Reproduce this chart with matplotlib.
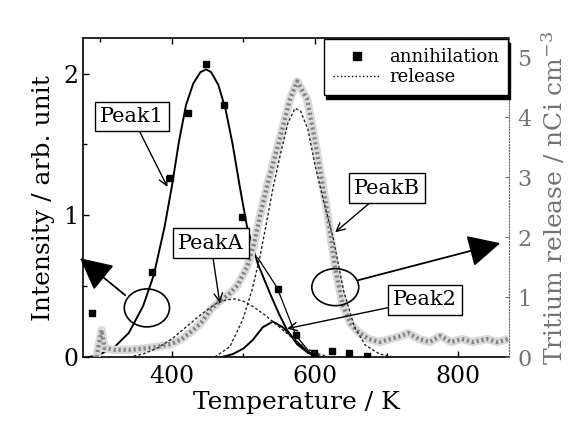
import matplotlib
matplotlib.use("Agg")
import matplotlib.pyplot as plt
from matplotlib.lines import Line2D
from matplotlib.patches import Ellipse

plt.rcParams['font.family'] = ['DejaVu Serif']
plt.rcParams['mathtext.fontset'] = 'dejavuserif'

# positron annihilation intensity (left axis)
ann_T = [288, 373, 398, 423, 448, 473, 498, 548, 573, 598, 623, 648, 673]
ann_I = [0.31, 0.60, 1.26, 1.72, 2.07, 1.78, 0.99, 0.48, 0.155, 0.03, 0.04, 0.03, 0.01]

# fitted components of annihilation (left axis)
peak1_T = [285, 300, 320, 340, 360, 375, 390, 400, 410, 420, 430, 440, 448, 455, 465,
           475, 485, 495, 505, 520, 537, 550, 561, 575, 590, 605]
peak1_I = [0.0, 0.02, 0.07, 0.17, 0.36, 0.58, 0.92, 1.2, 1.52, 1.78, 1.93, 2.01, 2.03, 2.01, 1.92,
           1.75, 1.5, 1.2, 0.92, 0.66, 0.45, 0.30, 0.19, 0.09, 0.03, 0.0]
peak2_T = [470, 485, 500, 513, 527, 541, 555, 572, 590, 605]
peak2_I = [0.0, 0.02, 0.06, 0.12, 0.21, 0.25, 0.21, 0.12, 0.035, 0.0]
tail_T = [520, 547, 573, 593, 610]
tail_I = [0.70, 0.49, 0.155, 0.03, 0.0]

# tritium release (right axis)
rel_T = [295, 302, 306, 320, 340, 360, 380, 400, 414, 430, 441, 455, 469, 480, 492, 505,
         514, 524, 534, 552, 565, 575, 589, 600, 616, 628, 639, 650, 662, 675, 690, 705,
         720, 730, 745, 760, 775, 790, 805, 820, 840, 855, 870]
rel_R = [0.0, 0.45, 0.15, 0.12, 0.12, 0.14, 0.17, 0.22, 0.3, 0.45, 0.57, 0.8, 0.95, 1.05, 1.2, 1.5,
         1.85, 2.4, 2.9, 3.7, 4.3, 4.6, 4.3, 3.6, 2.5, 1.5, 0.85, 0.55, 0.4, 0.3, 0.25, 0.3,
         0.35, 0.4, 0.3, 0.25, 0.35, 0.25, 0.3, 0.25, 0.3, 0.25, 0.3]
peakA_T = [340, 360, 380, 400, 420, 440, 460, 475, 487, 500, 515, 530, 545, 560, 575, 590, 605, 620]
peakA_R = [0.0, 0.05, 0.15, 0.3, 0.5, 0.7, 0.88, 0.95, 0.97, 0.93, 0.83, 0.7, 0.55, 0.4, 0.25, 0.13, 0.05, 0.0]
peakB_T = [460, 481, 499, 512, 523, 530, 541, 552, 562, 572, 580, 590, 600, 612, 625, 640,
           655, 670, 690, 710]
peakB_R = [0.0, 0.17, 0.62, 1.12, 1.67, 2.1, 2.8, 3.4, 3.9, 4.15, 4.1, 3.8, 3.2, 2.6, 2.0, 1.1,
           0.5, 0.2, 0.05, 0.0]

fig = plt.figure(figsize=(5.76, 4.24), dpi=100)
ax = fig.add_axes([0.144, 0.158, 0.740, 0.752])
ax2 = ax.twinx()

# release curves on the right axis (stippled band)
ax2.plot(rel_T, rel_R, color='0.85', lw=6, solid_capstyle='butt', zorder=1)
ax2.plot(rel_T, rel_R, color='0.5', lw=3, ls=(0, (0.5, 0.7)), zorder=2)
ax2.plot(peakA_T, peakA_R, color='0.15', lw=1, ls=(0, (2, 1.5)), zorder=3)
ax2.plot(peakB_T, peakB_R, color='0.15', lw=1, ls=(0, (2, 1.5)), zorder=3)

# annihilation on the left axis
ax.plot(peak1_T, peak1_I, color='k', lw=1.4)
ax.plot(peak2_T, peak2_I, color='k', lw=1.4)
ax.plot(tail_T, tail_I, color='k', lw=0.9)
ax.plot(ann_T, ann_I, ls='none', marker='s', ms=5, color='k')

ax.set_xlim(276, 871)
ax.set_ylim(0, 2.25)
ax2.set_ylim(0, 5.32)

ax.set_xticks([400, 600, 800])
ax.set_xticks([300, 500, 700], minor=True)
ax.set_yticks([0, 1, 2])
ax.set_yticks([0.5, 1.5], minor=True)
ax.tick_params(which='both', direction='in', top=True, labelsize=17, length=4, width=1)
ax.tick_params(which='minor', length=3)
ax.tick_params(axis='x', pad=6)
ax.set_xlabel('Temperature / K', fontsize=18, labelpad=2)
ax.set_ylabel('Intensity / arb. unit', fontsize=18, labelpad=6)

ax2.set_yticks([0, 1, 2, 3, 4, 5])
ax2.tick_params(direction='in', length=3, colors='0.45', labelsize=16, pad=6)
ax2.set_ylabel('Tritium release / nCi cm$^{-3}$', fontsize=18, color='0.45', labelpad=6)

for s in ['left', 'bottom', 'top']:
    ax.spines[s].set_linewidth(1.2)
ax.spines['right'].set_visible(False)
for s in ['left', 'bottom', 'top']:
    ax2.spines[s].set_visible(False)
ax2.spines['right'].set_linestyle(':')
ax2.spines['right'].set_color('0.4')

# legend with a solid shadow
handles = [Line2D([], [], marker='s', ls='none', color='k', ms=6),
           Line2D([], [], ls=':', color='k', lw=1)]
leg = ax2.legend(handles, ['annihilation', 'release'], loc='upper right', fontsize=13,
                 frameon=True, fancybox=False, borderaxespad=0.05, handlelength=2.6,
                 handletextpad=0.5, labelspacing=0.1, borderpad=0.5,
                 shadow={'color': 'k', 'alpha': 1, 'ox': 1.5, 'oy': -3})
leg.get_frame().set_edgecolor('k')
leg.get_frame().set_linewidth(1)

# peak labels
box = dict(boxstyle='square,pad=0.25', fc='w', ec='k', lw=1)
arr = dict(arrowstyle='->', color='k', lw=1, shrinkA=0, shrinkB=0)
ax2.annotate('Peak1', xy=(394, 1.2 * 5.32 / 2.25), xytext=(0.115, 0.755),
             textcoords='axes fraction', fontsize=15, ha='center', va='center',
             bbox=box, arrowprops=arr, zorder=6)
ax2.annotate('PeakA', xy=(467, 0.38 * 5.32 / 2.25), xytext=(0.300, 0.357),
             textcoords='axes fraction', fontsize=15, ha='center', va='center',
             bbox=box, arrowprops=arr, zorder=6)
ax2.annotate('PeakB', xy=(628, 0.88 * 5.32 / 2.25), xytext=(0.714, 0.530),
             textcoords='axes fraction', fontsize=15, ha='center', va='center',
             bbox=box, arrowprops=arr, zorder=6)
ax2.annotate('Peak2', xy=(561, 0.20 * 5.32 / 2.25), xytext=(0.803, 0.179),
             textcoords='axes fraction', fontsize=15, ha='center', va='center',
             bbox=box, arrowprops=arr, zorder=6)

# ellipses pointing to their axes
ax2.add_patch(Ellipse((0.150, 0.154), 0.106, 0.119, transform=ax2.transAxes,
                      fc='none', ec='k', lw=1.2, zorder=6))
ax2.add_patch(Ellipse((0.592, 0.219), 0.110, 0.116, transform=ax2.transAxes,
                      fc='none', ec='k', lw=1.2, zorder=6))
big = dict(arrowstyle='-|>,head_length=1.0,head_width=0.5', color='k', lw=1.3,
           shrinkA=0, shrinkB=0, mutation_scale=20)
ax2.annotate('', xy=(-0.007, 0.310), xytext=(0.099, 0.194), xycoords='axes fraction',
             textcoords='axes fraction', arrowprops=big, annotation_clip=False, zorder=6)
ax2.annotate('', xy=(0.979, 0.357), xytext=(0.646, 0.241), xycoords='axes fraction',
             textcoords='axes fraction', arrowprops=big, annotation_clip=False, zorder=6)

fig.savefig('out.png', dpi=100)
